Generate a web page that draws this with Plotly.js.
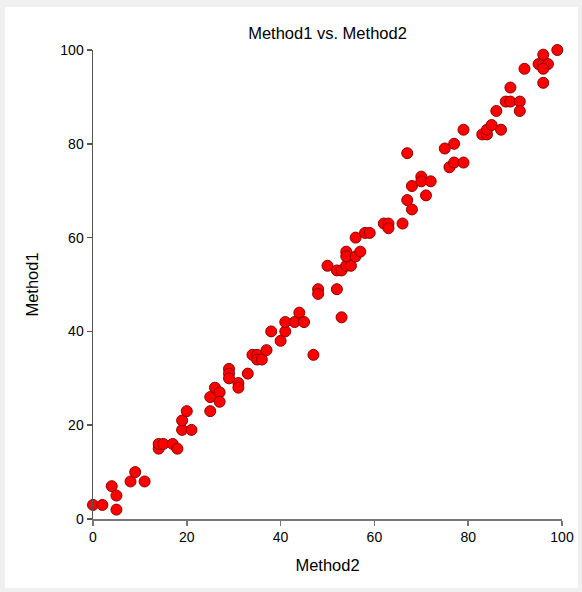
<!DOCTYPE html>
<html>
<head>
<meta charset="utf-8">
<script src="https://cdn.plot.ly/plotly-3.0.1.min.js"></script>
<style>
  html, body { margin: 0; padding: 0; background: #f0f0f0; width: 582px; height: 592px; overflow: hidden; }
  #chart { position: absolute; left: 5px; top: 7px; width: 573px; height: 581px; background: #fff; }
</style>
</head>
<body>
<div id="chart"></div>
<script>
const method2 = [0,2,4,5,5,8,9,11,
  14,14,15,17,18,
  19,19,20,21,
  25,25,26,27,27,
  29,29,29,31,31,33,
  34,35,35,36,37,38,40,41,41,43,44,45,47,
  48,48,52,53,50,52,53,54,55,54,54,56,57,56,58,59,
  62,63,63,66,67,68,68,70,70,72,71,67,
  75,76,77,79,77,79,83,84,84,85,87,86,88,89,89,91,91,92,95,96,97,96,96,96,99];
const method1 = [3,3,7,5,2,8,10,8,
  15,16,16,16,15,
  19,21,23,19,
  23,26,28,27,25,
  32,31,30,29,28,31,
  35,35,34,34,36,40,38,40,42,42,44,42,35,
  49,48,49,43,54,53,53,54,54,57,56,56,57,60,61,61,
  63,63,62,63,68,66,71,73,72,72,69,78,
  79,75,76,76,80,83,82,82,83,84,83,87,89,89,92,89,87,96,97,97,97,99,96,93,100];
const xTicks = [0,20,40,60,80,100];
const yTicks = [0,20,40,60,80,100];

const font = "Liberation Sans, Arial, sans-serif";
Plotly.newPlot('chart', [{
  type: 'scatter', mode: 'markers',
  x: method2, y: method1,
  cliponaxis: false,
  marker: { color: '#ff0000', size: 11, line: { color: '#8b0000', width: 1 } },
  hoverinfo: 'x+y'
}], {
  width: 573, height: 581,
  paper_bgcolor: '#ffffff', plot_bgcolor: '#ffffff',
  margin: { l: 88, r: 16, t: 43, b: 69 },
  showlegend: false,
  font: { family: font, size: 14, color: '#000' },
  title: { text: 'Method1 vs. Method2', font: { family: font, size: 16.5, color: '#000' },
           x: 0.5, xref: 'paper', y: 0.955, yanchor: 'middle' },
  xaxis: {
    range: [0, 100], tickvals: xTicks, ticktext: xTicks.map(String),
    showgrid: false, zeroline: false, showline: true, linecolor: '#777', linewidth: 1.5,
    ticks: 'outside', ticklen: 5, tickcolor: '#777', tickwidth: 1.5,
    tickfont: { family: font, size: 14, color: '#000' },
    title: { text: 'Method2', font: { family: font, size: 16.5, color: '#000' }, standoff: 15 }
  },
  yaxis: {
    range: [0, 100], tickvals: yTicks, ticktext: yTicks.map(String),
    showgrid: false, zeroline: false, showline: true, linecolor: '#555', linewidth: 1.5,
    ticks: 'outside', ticklen: 5, tickcolor: '#555', tickwidth: 1.5,
    tickfont: { family: font, size: 14, color: '#000' },
    title: { text: 'Method1', font: { family: font, size: 16.5, color: '#000' }, standoff: 17 }
  }
}, { displayModeBar: false, staticPlot: true });
</script>
</body>
</html>
